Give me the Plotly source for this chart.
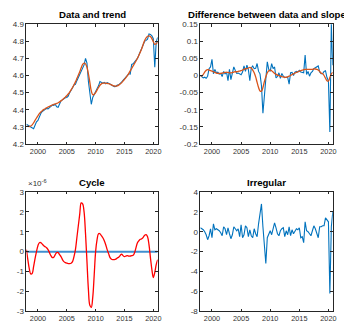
import numpy as np
import plotly.graph_objects as go

# Quarterly observations, 1998Q1 .. 2020Q4
START_YEAR = 1998
N_QUARTERS = 92
t = START_YEAR + np.arange(N_QUARTERS) / 4.0

data_series = [
    4.315, 4.312, 4.305, 4.300,
    4.292, 4.290, 4.310, 4.330,
    4.338, 4.365, 4.378, 4.390,
    4.398, 4.402, 4.408, 4.405,
    4.415, 4.420, 4.428, 4.425,
    4.432, 4.418, 4.415, 4.438,
    4.452, 4.458, 4.465, 4.470,
    4.472, 4.480, 4.500, 4.512,
    4.528, 4.545, 4.548, 4.570,
    4.588, 4.612, 4.632, 4.650,
    4.662, 4.700, 4.672, 4.565,
    4.495, 4.432, 4.472, 4.488,
    4.500, 4.520, 4.540, 4.565,
    4.558, 4.555, 4.560, 4.552,
    4.558, 4.556, 4.550, 4.545,
    4.540, 4.535, 4.536, 4.545,
    4.545, 4.552, 4.562, 4.572,
    4.582, 4.592, 4.602, 4.610,
    4.608, 4.665, 4.668, 4.680,
    4.688, 4.700, 4.720, 4.742,
    4.768, 4.790, 4.800, 4.805,
    4.812, 4.843, 4.840, 4.832,
    4.815, 4.648, 4.795, 4.822,
]

trend_series = [
    4.305, 4.303, 4.302, 4.305,
    4.312, 4.324, 4.338, 4.352,
    4.365, 4.377, 4.387, 4.395,
    4.401, 4.406, 4.411, 4.416,
    4.420, 4.424, 4.428, 4.431,
    4.434, 4.437, 4.441, 4.446,
    4.452, 4.459, 4.466, 4.474,
    4.482, 4.492, 4.503, 4.516,
    4.530, 4.546, 4.563, 4.582,
    4.602, 4.622, 4.645, 4.665,
    4.672, 4.668, 4.648, 4.610,
    4.560, 4.510, 4.488, 4.490,
    4.500, 4.515, 4.530, 4.543,
    4.551, 4.555, 4.556, 4.555,
    4.554, 4.552, 4.549, 4.545,
    4.541, 4.539, 4.538, 4.540,
    4.544, 4.550, 4.558, 4.567,
    4.577, 4.588, 4.600, 4.613,
    4.627, 4.641, 4.656, 4.670,
    4.685, 4.701, 4.718, 4.737,
    4.758, 4.782, 4.805, 4.820,
    4.829, 4.832, 4.828, 4.815,
    4.798, 4.782, 4.785, 4.795,
]

data_diff = [
    0.000, -0.003, -0.007, -0.005,
    -0.008, -0.002, 0.020, 0.025,
    0.047, 0.005, 0.018, 0.008,
    0.010, 0.004, 0.006, -0.003,
    0.012, 0.005, 0.010, -0.015,
    0.018, -0.012, 0.008, 0.025,
    0.015, 0.006, 0.007, 0.005,
    0.002, 0.010, 0.028, 0.012,
    0.030, 0.017, -0.015, 0.022,
    0.028, 0.020, 0.021, 0.035,
    0.012, 0.005, -0.030, -0.110,
    -0.060, -0.020, 0.040, 0.018,
    0.012, 0.035, 0.020, 0.025,
    -0.007, -0.003, 0.008, -0.008,
    0.006, -0.002, -0.006, -0.005,
    -0.005, -0.025, 0.008, 0.009,
    0.000, 0.010, 0.012, 0.010,
    0.015, 0.010, 0.010, 0.008,
    0.060, 0.003, 0.012, -0.002,
    0.008, 0.012, 0.020, 0.022,
    0.026, 0.028, 0.010, 0.005,
    0.005, 0.012, 0.014, -0.006,
    -0.015, -0.165, 0.150, 0.030,
]

slope_series = [
    0.000, -0.002, 0.003, 0.010,
    0.015, 0.017, 0.016, 0.014,
    0.013, 0.011, 0.009, 0.007,
    0.006, 0.006, 0.006, 0.007,
    0.008, 0.009, 0.009, 0.009,
    0.008, 0.008, 0.009, 0.010,
    0.011, 0.011, 0.012, 0.013,
    0.014, 0.016, 0.018, 0.020,
    0.020, 0.022, 0.024, 0.022,
    0.016, 0.008, -0.004, -0.020,
    -0.035, -0.045, -0.046, -0.035,
    -0.018, -0.004, 0.008, 0.014,
    0.016, 0.014, 0.010, 0.006,
    0.004, 0.001, 0.000, -0.002,
    -0.003, -0.004, -0.005, -0.005,
    -0.004, -0.002, 0.000, 0.003,
    0.005, 0.007, 0.009, 0.011,
    0.013, 0.014, 0.016, 0.017,
    0.018, 0.018, 0.018, 0.018,
    0.018, 0.018, 0.019, 0.019,
    0.018, 0.016, 0.012, 0.007,
    0.006, 0.000, -0.008, -0.015,
    -0.016, -0.006, 0.005, 0.009,
]

# cycle component, in units of 1e-6
cycle_series = [
    0.10, -0.40, -0.85, -1.12,
    -1.10, -0.75, -0.35, 0.00,
    0.30, 0.45, 0.45, 0.38,
    0.30, 0.25, 0.20, 0.10,
    -0.05, -0.20, -0.30, -0.28,
    -0.15, -0.05, -0.05, -0.15,
    -0.25, -0.40, -0.50, -0.55,
    -0.58, -0.60, -0.60, -0.58,
    -0.50, -0.25, 0.10, 0.70,
    1.30, 1.90, 2.45, 2.40,
    2.00, 0.90, -0.50, -1.90,
    -2.70, -2.80, -2.30, -1.20,
    0.00, 0.60, 0.90, 0.90,
    0.80, 0.70, 0.55, 0.35,
    0.10, -0.10, -0.30, -0.38,
    -0.40, -0.40, -0.38, -0.32,
    -0.28, -0.20, -0.12, -0.20,
    -0.25, -0.22, -0.20, -0.22,
    -0.22, -0.20, -0.18, -0.05,
    0.20, 0.45, 0.55, 0.62,
    0.65, 0.72, 0.82, 0.85,
    0.75, 0.35, -0.30, -0.90,
    -1.30, -1.05, -0.65, -0.40,
]
cycle_zero = [0.0] * N_QUARTERS

irregular_series = [
    0.4, 0.3, 0.2, 0.0,
    -0.3, -0.8, -0.4, 0.3,
    -0.6, 0.8, 0.2, 0.3,
    0.2, 0.1, -0.1, -0.4,
    0.5, 0.3, -0.3, 0.4,
    -0.2, -0.7, -0.3, 0.5,
    0.3, 0.1, 0.3, -0.5,
    0.7, -0.6, -0.3, 0.6,
    0.4, -0.5, 0.2, -0.4,
    -0.6, 0.3, -0.2, -0.5,
    0.8, 2.0, 2.8, 0.5,
    -1.5, -3.2, -0.6, -0.2,
    0.1, -0.3, 0.5, 0.9,
    0.4, -0.2, -0.4, 0.1,
    0.3, 0.4, -0.5, 0.1,
    -0.3, 0.5, -0.4, 0.2,
    -0.2, 0.1, 0.3, 0.2,
    0.4, -0.6, -0.5, -1.1,
    1.0, 0.1, 0.0, -0.2,
    -0.4, 0.1, 0.6, 0.3,
    -0.3, -0.6, 0.5, 0.5,
    0.6, 0.6, 1.4, 1.2,
    1.0, -6.2, 0.5, 2.0,
]

x_ticks = [2000, 2005, 2010, 2015, 2020]
titles = ["Data and trend", "Difference between data and slope", "Cycle", "Irregular"]

BLUE = "#0072BD"
ORANGE = "#D95319"
RED = "#FF0000"
AX = "#262626"
FONT = "Liberation Sans, Arial, Helvetica, sans-serif"

W, H = 344, 327
# panel boxes in pixels: (left, right, top, bottom)
boxes = {
    1: (26.7, 159.5, 20.7, 144.0),
    2: (202.7, 336.7, 20.7, 144.0),
    3: (26.7, 159.5, 193.3, 316.0),
    4: (202.7, 336.7, 193.3, 316.0),
}

fig = go.Figure()

def add(trace, k):
    sfx = "" if k == 1 else str(k)
    trace.update(xaxis="x" + sfx, yaxis="y" + sfx)
    fig.add_trace(trace)

add(go.Scatter(x=t, y=data_series, mode="lines", line=dict(color=BLUE, width=1.1)), 1)
add(go.Scatter(x=t, y=trend_series, mode="lines", line=dict(color=ORANGE, width=1.3, shape="spline")), 1)
add(go.Scatter(x=t, y=data_diff, mode="lines", line=dict(color=BLUE, width=1.1)), 2)
add(go.Scatter(x=t, y=slope_series, mode="lines", line=dict(color=ORANGE, width=1.3, shape="spline")), 2)
add(go.Scatter(x=t, y=cycle_zero, mode="lines", line=dict(color="#3f8fd0", width=2)), 3)
add(go.Scatter(x=t, y=cycle_series, mode="lines", line=dict(color=RED, width=1.3, shape="spline")), 3)
add(go.Scatter(x=t, y=irregular_series, mode="lines", line=dict(color=BLUE, width=1.1)), 4)

yspecs = {
    1: dict(range=[4.2, 4.9], tickvals=[4.2, 4.3, 4.4, 4.5, 4.6, 4.7, 4.8, 4.9],
            ticktext=["4.2", "4.3", "4.4", "4.5", "4.6", "4.7", "4.8", "4.9"]),
    2: dict(range=[-0.2, 0.15], tickvals=[-0.2, -0.15, -0.1, -0.05, 0, 0.05, 0.1, 0.15],
            ticktext=["-0.2", "-0.15", "-0.1", "-0.05", "0", "0.05", "0.1", "0.15"]),
    3: dict(range=[-3, 3], tickvals=[-3, -2, -1, 0, 1, 2, 3],
            ticktext=["-3", "-2", "-1", "0", "1", "2", "3"]),
    4: dict(range=[-8, 4], tickvals=[-8, -6, -4, -2, 0, 2, 4],
            ticktext=["-8", "-6", "-4", "-2", "0", "2", "4"]),
}

common = dict(showgrid=False, zeroline=False, showline=True, linecolor=AX, linewidth=0.8,
              mirror="ticks", ticks="inside", ticklen=2.5, tickwidth=0.8, tickcolor=AX)

layout = dict(width=W, height=H, margin=dict(l=0, r=0, t=0, b=0),
              paper_bgcolor="white", plot_bgcolor="white", showlegend=False,
              font=dict(family=FONT, color="#333333"))
annotations = []
for k, (l, r, tp, bt) in boxes.items():
    sfx = "" if k == 1 else str(k)
    layout["xaxis" + sfx] = dict(domain=[l / W, r / W], range=[1998, 2020.75],
                                 tickvals=x_ticks, ticktext=[str(v) for v in x_ticks],
                                 tickfont=dict(size=7.3, color="#333333"),
                                 anchor="y" + sfx, **common)
    layout["yaxis" + sfx] = dict(domain=[1 - bt / H, 1 - tp / H],
                                 tickfont=dict(size=8, color="#333333"),
                                 anchor="x" + sfx, **yspecs[k], **common)
    annotations.append(dict(text="<b>" + titles[k - 1] + "</b>", xref="paper", yref="paper",
                            x=(l + r) / 2 / W, y=1 - (tp - 2) / H, xanchor="center",
                            yanchor="bottom", showarrow=False,
                            font=dict(size=9.6, color="#000000", family=FONT)))

annotations.append(dict(text="×10<sup>-6</sup>", xref="paper", yref="paper",
                        x=26.0 / W, y=1 - 191.0 / H, xanchor="left", yanchor="bottom",
                        showarrow=False, font=dict(size=8, color="#333333", family=FONT)))
layout["annotations"] = annotations

fig.update_layout(**layout)
fig.write_html("out.html")
